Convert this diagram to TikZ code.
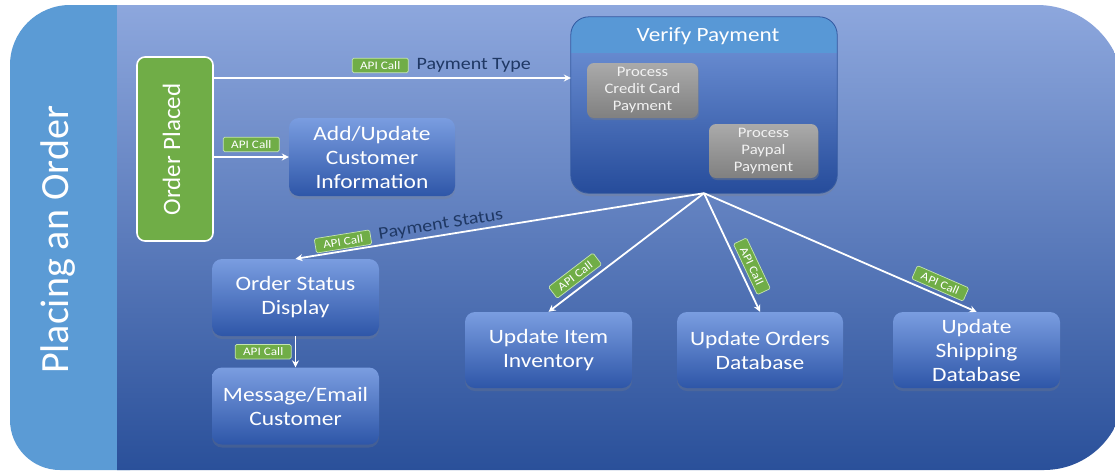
\documentclass[tikz,border=0pt]{standalone}
\usepackage{fontspec}
\setmainfont{Carlito}[FakeStretch=1.15]
\newfontfamily\uprightfont{Carlito}
\usetikzlibrary{arrows.meta,shadows,positioning}

\definecolor{band}{RGB}{91,155,213}
\definecolor{paneltop}{RGB}{141,167,221}
\definecolor{panelmid}{RGB}{80,120,198}
\definecolor{panelbot}{RGB}{42,80,154}
\definecolor{boxtop}{RGB}{122,157,224}
\definecolor{boxbot}{RGB}{46,86,168}
\definecolor{apigreen}{RGB}{112,173,71}
\definecolor{badgeedge}{RGB}{196,228,176}
\definecolor{navy}{RGB}{31,56,100}
\definecolor{hdr}{RGB}{88,152,214}
\definecolor{vptop}{RGB}{118,153,220}
\definecolor{vpbot}{RGB}{38,76,155}
\definecolor{vpline}{RGB}{50,88,160}
\definecolor{graytop}{RGB}{170,170,170}
\definecolor{graybot}{RGB}{128,128,128}
\definecolor{proctext}{RGB}{242,242,242}

\tikzset{
  blueblock/.style={rounded corners=10pt, top color=boxtop, bottom color=boxbot,
    minimum width=167pt, minimum height=77pt, align=center, text=white,
    font=\fontsize{20.4}{24}\selectfont, inner sep=0pt,
    drop shadow={opacity=0.25, shadow xshift=0pt, shadow yshift=-3pt}},
  procbox/.style={rounded corners=7pt, top color=graytop, bottom color=graybot,
    minimum width=110pt, minimum height=55pt, align=center, text=proctext,
    font=\fontsize{14.5}{17}\selectfont, inner sep=0pt,
    drop shadow={opacity=0.4, shadow xshift=1pt, shadow yshift=-2pt}},
  apibadge/.style={fill=apigreen, draw=badgeedge, line width=0.7pt, rounded corners=1.5pt,
    text=white, font=\fontsize{11.5}{12}\selectfont, inner sep=0pt,
    minimum width=56pt, minimum height=14.5pt},
  flow/.style={draw=white, line width=1.8pt, -{Stealth[length=7pt,width=7pt]}},
  flowback/.style={draw=white, line width=1.8pt, {Stealth[length=7pt,width=7pt]}-},
  navylabel/.style={text=navy, font=\fontsize{17.4}{20}\selectfont, inner sep=1pt},
}

\begin{document}
\begin{tikzpicture}[x=1pt,y=-1pt]
\useasboundingbox (0,0) rectangle (1115,472);
\fill[white] (0,0) rectangle (1115,472);
\begin{scope}
  \clip (0,0) rectangle (1115,472);
  % title band on the left
  \fill[band] (130,5) -- (70,5) .. controls (36.9,5) and (10,31.9) .. (10,65)
    -- (10,420) .. controls (10,447.6) and (32.4,470) .. (60,470) -- (130,470) -- cycle;
  % main panel
  \shade[top color=paneltop, middle color=panelmid, bottom color=panelbot]
    (117,5) -- (1037,5) .. controls (1085.05,5) and (1124,43.95) .. (1124,92)
    -- (1124,390) .. controls (1124,434.2) and (1088.2,470) .. (1044,470)
    -- (117,470) -- cycle;
\end{scope}

\node[rotate=90, text=white, font=\uprightfont\fontsize{40}{44}\selectfont] (title) at (58,240) {Placing an Order};

% order placed
\node[rounded corners=8pt, fill=apigreen, draw=white, line width=1.6pt,
  minimum width=76pt, minimum height=184pt] (placed) at (175,149) {};
\node[rotate=90, text=white, font=\uprightfont\fontsize{25}{28}\selectfont] (placedtxt) at (171.5,149.5) {Order Placed};

% verify payment group
\node[rounded corners=18pt, top color=vptop, bottom color=vpbot,
  minimum width=266pt, minimum height=176pt,
  drop shadow={opacity=0.3, shadow xshift=0pt, shadow yshift=-3pt}] (verify) at (704,105) {};
\begin{scope}
  \clip[rounded corners=18pt] (verify.north west) rectangle (verify.south east);
  \fill[hdr] (verify.north west) rectangle ([yshift=-36pt]verify.north east);
\end{scope}
\draw[vpline, line width=0.8pt, rounded corners=18pt] (verify.north west) rectangle (verify.south east);
\node[text=white, font=\fontsize{20.2}{24}\selectfont] (vptitle) at ([xshift=4pt,yshift=-19pt]verify.north) {Verify Payment};
\node[procbox, minimum width=111pt] (ccard) at (642.5,90.5) {Process\\Credit Card\\Payment};
\node[procbox, minimum width=109pt, minimum height=54pt] (paypal) at (763.5,151) {Process\\Paypal\\Payment};

% process blocks
\node[blueblock, minimum width=166pt, minimum height=78pt] (addupd) at (372,157) {Add/Update\\Customer\\Information};
\node[blueblock] (status) at (295.5,297.5) {Order Status\\Display};
\node[blueblock] (message) at (295.5,406) {Message/Email\\Customer};
\node[blueblock, minimum height=76pt] (inventory) at (548.5,350) {Update Item\\Inventory};
\node[blueblock, minimum width=166pt, minimum height=76pt] (orders) at (760,350) {Update Orders\\Database};
\node[blueblock, minimum height=76pt] (shipping) at (976.5,350) {Update\\Shipping\\Database};

% connectors
\coordinate (typeY) at (0,78);
\draw[flow] (placed.east |- typeY) -- node[apibadge, pos=0.466, above=5pt] (badgeType) {API Call} (verify.west |- typeY);
\node[navylabel, right=7pt of badgeType] (ptype) {Payment Type};

\draw[flow] (placed.east |- addupd.west) -- node[apibadge, pos=0.5, above=5pt] (badgeCust) {API Call} (addupd.west);

\draw[flowback] (status.north) --
  node[apibadge, sloped, pos=0.12, above=2pt] (badgeStatus) {API Call}
  node[navylabel, sloped, pos=0.36, above=1.5pt] (pstatus) {Payment Status}
  (verify.south);
\draw[flowback] (inventory.north) -- node[apibadge, sloped, pos=0.22, above=5pt] (badgeInv) {API Call} (verify.south);
\draw[flow] (verify.south) -- node[apibadge, sloped, pos=0.66, above=4.5pt] (badgeOrd) {API Call} (orders.north);
\draw[flow] (verify.south) -- node[apibadge, sloped, pos=0.85, above=4pt] (badgeShip) {API Call} (shipping.north);
\draw[flow] (status.south) -- node[apibadge, left=4pt] (badgeMsg) {API Call} (message.north);
\end{tikzpicture}
\end{document}
